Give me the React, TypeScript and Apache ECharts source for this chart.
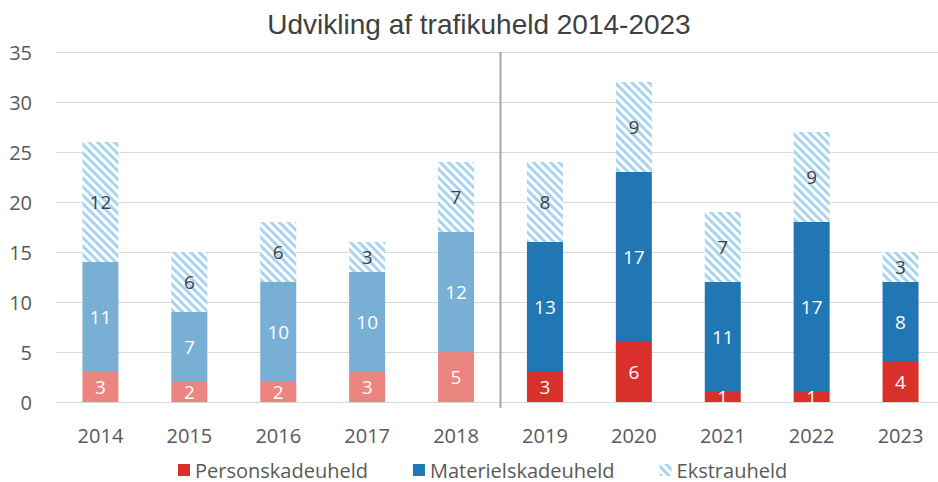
import React, { useEffect, useRef } from "react";
import * as echarts from "echarts";

const years = ["2014", "2015", "2016", "2017", "2018", "2019", "2020", "2021", "2022", "2023"];
const personskade = [3, 2, 2, 3, 5, 3, 6, 1, 1, 4];
const materielskade = [11, 7, 10, 10, 12, 13, 17, 11, 17, 8];
const ekstra = [12, 6, 6, 3, 7, 8, 9, 7, 9, 3];
const oldCount = 5;

const RED = "#D9302B";
const RED_OLD = "#EB8580";
const BLUE = "#2077B4";
const BLUE_OLD = "#7AAFD5";
const HATCH = "#A8D4EF";

export default function App() {
  const ref = useRef<HTMLDivElement>(null);
  useEffect(() => {
    document.body.style.margin = "0";
    document.body.style.overflow = "hidden";
    if (!ref.current) return;
    const chart = echarts.init(ref.current, null, { renderer: "svg" });
    const font = "'Open Sans', 'Noto Sans', sans-serif";
    const decal = {
      symbol: "rect",
      color: HATCH,
      backgroundColor: "#ffffff",
      dashArrayX: [1, 0],
      dashArrayY: [3, 3],
      symbolSize: 1,
      rotation: Math.PI / 4,
    };
    const label = (color: string) => ({
      show: true,
      position: "inside",
      color,
      fontSize: 19,
      fontFamily: font,
    });
    chart.setOption({
      animation: false,
      title: {
        text: "Udvikling af trafikuheld 2014-2023",
        left: 474,
        textAlign: "center",
        top: 5,
        textStyle: { fontSize: 28, fontWeight: "normal", color: "#404040", fontFamily: "'Liberation Sans', Arial, sans-serif" },
      },
      legend: {
        top: 459,
        left: 178,
        padding: 0,
        itemWidth: 12,
        itemHeight: 12,
        itemGap: 45,
        icon: "rect",
        textStyle: { fontSize: 20, lineHeight: 22, color: "#595959", fontFamily: font },
        data: ["Personskadeuheld", "Materielskadeuheld", "Ekstrauheld"],
      },
      grid: { left: 56, width: 889, top: 52, bottom: 80, containLabel: false },
      xAxis: {
        type: "category",
        data: years,
        axisLine: { lineStyle: { color: "#d9d9d9" } },
        axisTick: { show: false },
        axisLabel: { fontSize: 20, color: "#595959", fontFamily: font, margin: 23 },
      },
      yAxis: {
        type: "value",
        min: 0,
        max: 35,
        interval: 5,
        axisLabel: { fontSize: 20, color: "#595959", fontFamily: font, margin: 24 },
        splitLine: { lineStyle: { color: "#d9d9d9", width: 1 } },
      },
      series: [
        {
          name: "Personskadeuheld",
          type: "bar",
          stack: "t",
          barWidth: 36,
          itemStyle: { color: RED },
          label: label("#ffffff"),
          data: personskade.map((v, i) => ({ value: v, itemStyle: { color: i < oldCount ? RED_OLD : RED } })),
        },
        {
          name: "Materielskadeuheld",
          type: "bar",
          stack: "t",
          barWidth: 36,
          itemStyle: { color: BLUE },
          label: label("#ffffff"),
          data: materielskade.map((v, i) => ({ value: v, itemStyle: { color: i < oldCount ? BLUE_OLD : BLUE } })),
        },
        {
          name: "Ekstrauheld",
          type: "bar",
          stack: "t",
          barWidth: 36,
          itemStyle: { color: "#ffffff", decal },
          label: label("#404040"),
          data: ekstra,
        },
      ],
    });
    const x1 = chart.convertToPixel({ xAxisIndex: 0 }, years[oldCount - 1]) as number;
    const x2 = chart.convertToPixel({ xAxisIndex: 0 }, years[oldCount]) as number;
    const yTop = chart.convertToPixel({ yAxisIndex: 0 }, 35) as number;
    const yBot = chart.convertToPixel({ yAxisIndex: 0 }, 0) as number;
    const xm = Math.round((x1 + x2) / 2) + 0.5;
    chart.setOption({
      graphic: [
        {
          type: "line",
          shape: { x1: xm, y1: yTop, x2: xm, y2: yBot + 6 },
          style: { stroke: "#a6a6a6", lineWidth: 2 },
          z: 10,
        },
      ],
    });
    return () => chart.dispose();
  }, []);
  return <div ref={ref} style={{ width: 946, height: 482 }} />;
}
